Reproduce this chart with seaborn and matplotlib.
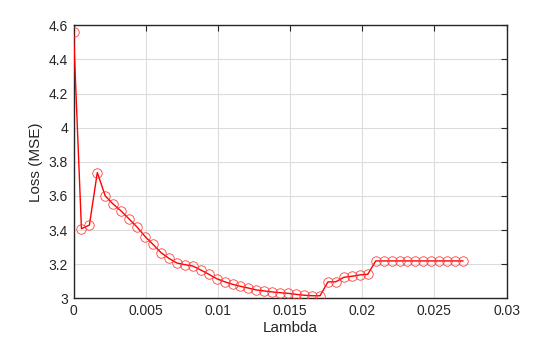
import matplotlib
matplotlib.use("Agg")
import matplotlib.pyplot as plt
import seaborn as sns
import pandas as pd

lam = [0.00000, 0.00055, 0.00110, 0.00165, 0.00220, 0.00276, 0.00331, 0.00386,
       0.00441, 0.00496, 0.00551, 0.00606, 0.00661, 0.00716, 0.00771, 0.00827,
       0.00882, 0.00937, 0.00992, 0.01047, 0.01102, 0.01157, 0.01212, 0.01267,
       0.01322, 0.01378, 0.01433, 0.01488, 0.01543, 0.01598, 0.01653, 0.01708,
       0.01763, 0.01818, 0.01873, 0.01929, 0.01984, 0.02039, 0.02094, 0.02149,
       0.02204, 0.02259, 0.02314, 0.02369, 0.02424, 0.02480, 0.02535, 0.02590,
       0.02645, 0.02700]
loss = [4.563, 3.408, 3.429, 3.737, 3.600, 3.551, 3.511, 3.464, 3.417, 3.362,
        3.316, 3.268, 3.234, 3.207, 3.197, 3.189, 3.166, 3.141, 3.115, 3.097,
        3.082, 3.070, 3.060, 3.049, 3.043, 3.037, 3.033, 3.029, 3.023, 3.018,
        3.015, 3.015, 3.096, 3.097, 3.123, 3.129, 3.137, 3.141, 3.219, 3.219,
        3.219, 3.219, 3.219, 3.219, 3.219, 3.219, 3.219, 3.219, 3.219, 3.219]

xticks = [0, 0.005, 0.01, 0.015, 0.02, 0.025, 0.03]
xticklabels = ["0", "0.005", "0.01", "0.015", "0.02", "0.025", "0.03"]
yticks = [3, 3.2, 3.4, 3.6, 3.8, 4, 4.2, 4.4, 4.6]
yticklabels = ["3", "3.2", "3.4", "3.6", "3.8", "4", "4.2", "4.4", "4.6"]

df = pd.DataFrame({"Lambda": lam, "Loss": loss})

sns.set_style("white")
plt.rcParams["font.family"] = ["Liberation Sans", "DejaVu Sans"]

fig = plt.figure(figsize=(5.6, 3.37), dpi=100)
ax = fig.add_axes([73.5 / 560, 1 - 298.3 / 337, (506.5 - 73.5) / 560, (298.3 - 25.3) / 337])

sns.lineplot(data=df, x="Lambda", y="Loss", ax=ax, color="#ff0000", linewidth=1.0,
             marker="o", markersize=6.8, markerfacecolor="none",
             markeredgecolor="#ff3030", markeredgewidth=0.55, zorder=3)

ax.set_xlim(0, 0.03)
ax.set_ylim(3, 4.6)
ax.set_xticks(xticks)
ax.set_xticklabels(xticklabels)
ax.set_yticks(yticks)
ax.set_yticklabels(yticklabels)
ax.grid(True, color="#dcdcdc", linewidth=0.8)
ax.set_axisbelow(True)
for s in ax.spines.values():
    s.set_color("#262626")
    s.set_linewidth(1.0)
    s.set_visible(True)
ax.tick_params(direction="in", length=4, width=0.8, top=True, right=True,
               labelsize=10, colors="#262626", labelcolor="#262626", pad=4)
ax.set_xlabel("Lambda", fontsize=11, color="#262626", labelpad=2)
ax.set_ylabel("Loss (MSE)", fontsize=11, color="#262626", labelpad=4)

fig.savefig("out.png", dpi=100)
